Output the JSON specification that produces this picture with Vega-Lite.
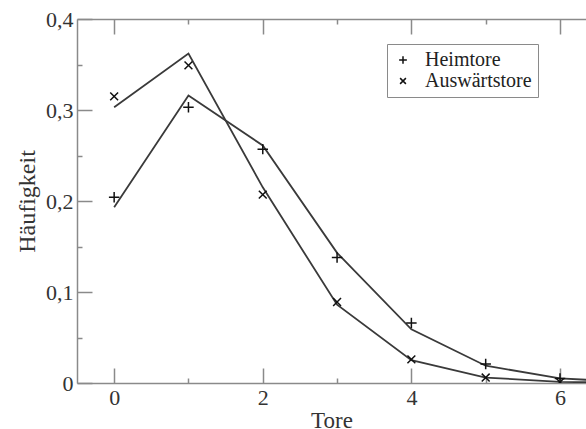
{
  "$schema": "https://vega.github.io/schema/vega-lite/v6.json",
  "width": 509,
  "height": 364,
  "autosize": {"type": "none"},
  "padding": {"left": 77, "top": 19, "right": 0, "bottom": 46},
  "background": "white",
  "config": {
    "view": {"stroke": null},
    "font": "Liberation Serif",
    "axis": {
      "domainColor": "#8a8a8a",
      "domainWidth": 1.5,
      "tickColor": "#8a8a8a",
      "tickWidth": 1.5,
      "grid": false,
      "labelFont": "Liberation Serif",
      "labelFontSize": 22,
      "labelColor": "#333333",
      "titleFont": "Liberation Serif",
      "titleFontSize": 23,
      "titleFontWeight": "normal",
      "titleColor": "#333333"
    }
  },
  "data": {
    "values": [
      {"tore": 0, "serie": "Heimtore", "beob": 0.204, "fit": 0.193},
      {"tore": 1, "serie": "Heimtore", "beob": 0.303, "fit": 0.316},
      {"tore": 2, "serie": "Heimtore", "beob": 0.257, "fit": 0.261},
      {"tore": 3, "serie": "Heimtore", "beob": 0.138, "fit": 0.143},
      {"tore": 4, "serie": "Heimtore", "beob": 0.066, "fit": 0.059},
      {"tore": 5, "serie": "Heimtore", "beob": 0.021, "fit": 0.019},
      {"tore": 6, "serie": "Heimtore", "beob": 0.005, "fit": 0.005},
      {"tore": 7, "serie": "Heimtore", "beob": null, "fit": 0.001},
      {"tore": 0, "serie": "Auswärtstore", "beob": 0.315, "fit": 0.303},
      {"tore": 1, "serie": "Auswärtstore", "beob": 0.349, "fit": 0.362},
      {"tore": 2, "serie": "Auswärtstore", "beob": 0.207, "fit": 0.215},
      {"tore": 3, "serie": "Auswärtstore", "beob": 0.089, "fit": 0.086},
      {"tore": 4, "serie": "Auswärtstore", "beob": 0.026, "fit": 0.025},
      {"tore": 5, "serie": "Auswärtstore", "beob": 0.006, "fit": 0.006},
      {"tore": 6, "serie": "Auswärtstore", "beob": 0.001, "fit": 0.0012},
      {"tore": 7, "serie": "Auswärtstore", "beob": null, "fit": 0.0002}
    ]
  },
  "resolve": {"axis": {"x": "independent", "y": "independent"}},
  "layer": [
    {
      "mark": {"type": "line", "color": "#3a3a3a", "strokeWidth": 1.8, "clip": true},
      "encoding": {
        "x": {
          "field": "tore", "type": "quantitative",
          "scale": {"domain": [-0.5, 6.35], "nice": false, "zero": false},
          "axis": {
            "orient": "bottom",
            "values": [0, 1, 2, 3, 4, 5, 6],
            "labelExpr": "datum.value % 2 === 0 ? datum.label : ''",
            "tickSize": {"condition": {"test": "datum.value % 2 === 0", "value": -15}, "value": -5},
            "labelPadding": 19,
            "title": "Tore",
            "titlePadding": 1
          }
        },
        "y": {
          "field": "fit", "type": "quantitative",
          "scale": {"domain": [0, 0.4], "nice": false},
          "axis": {
            "orient": "left",
            "values": [0, 0.05, 0.1, 0.15, 0.2, 0.25, 0.3, 0.35, 0.4],
            "labelExpr": "datum.value === 0 ? '0' : (abs(datum.value * 10 - round(datum.value * 10)) < 0.001 ? replace(format(datum.value, '.1f'), '.', ',') : '')",
            "tickSize": {"condition": {"test": "abs(datum.value * 10 - round(datum.value * 10)) < 0.001", "value": -15}, "value": -5},
            "labelPadding": 19,
            "title": "Häufigkeit",
            "titleFontSize": 24,
            "titlePadding": 6
          }
        },
        "detail": {"field": "serie", "type": "nominal"}
      }
    },
    {
      "mark": {"type": "point", "filled": false, "stroke": "#111111", "strokeWidth": 1.5, "size": 110, "opacity": 1, "clip": true},
      "encoding": {
        "x": {
          "field": "tore", "type": "quantitative",
          "axis": {
            "orient": "top",
            "values": [0, 1, 2, 3, 4, 5, 6],
            "labels": false,
            "title": null,
            "tickSize": {"condition": {"test": "datum.value % 2 === 0", "value": -15}, "value": -5}
          }
        },
        "y": {"field": "beob", "type": "quantitative", "axis": null},
        "shape": {
          "field": "serie", "type": "nominal",
          "scale": {
            "domain": ["Heimtore", "Auswärtstore"],
            "range": ["M-1,0L1,0M0,-1L0,1", "M-0.75,-0.75L0.75,0.75M-0.75,0.75L0.75,-0.75"]
          },
          "legend": {
            "title": null,
            "orient": "none",
            "legendX": 310,
            "legendY": 25,
            "strokeColor": "#8a8a8a",
            "padding": 6,
            "symbolSize": 60,
            "symbolStrokeColor": "#111111",
            "symbolFillColor": "transparent",
            "labelFont": "Liberation Serif",
            "labelFontSize": 20,
            "labelColor": "#222222",
            "rowPadding": 1,
            "labelOffset": 12
          }
        }
      }
    }
  ]
}
